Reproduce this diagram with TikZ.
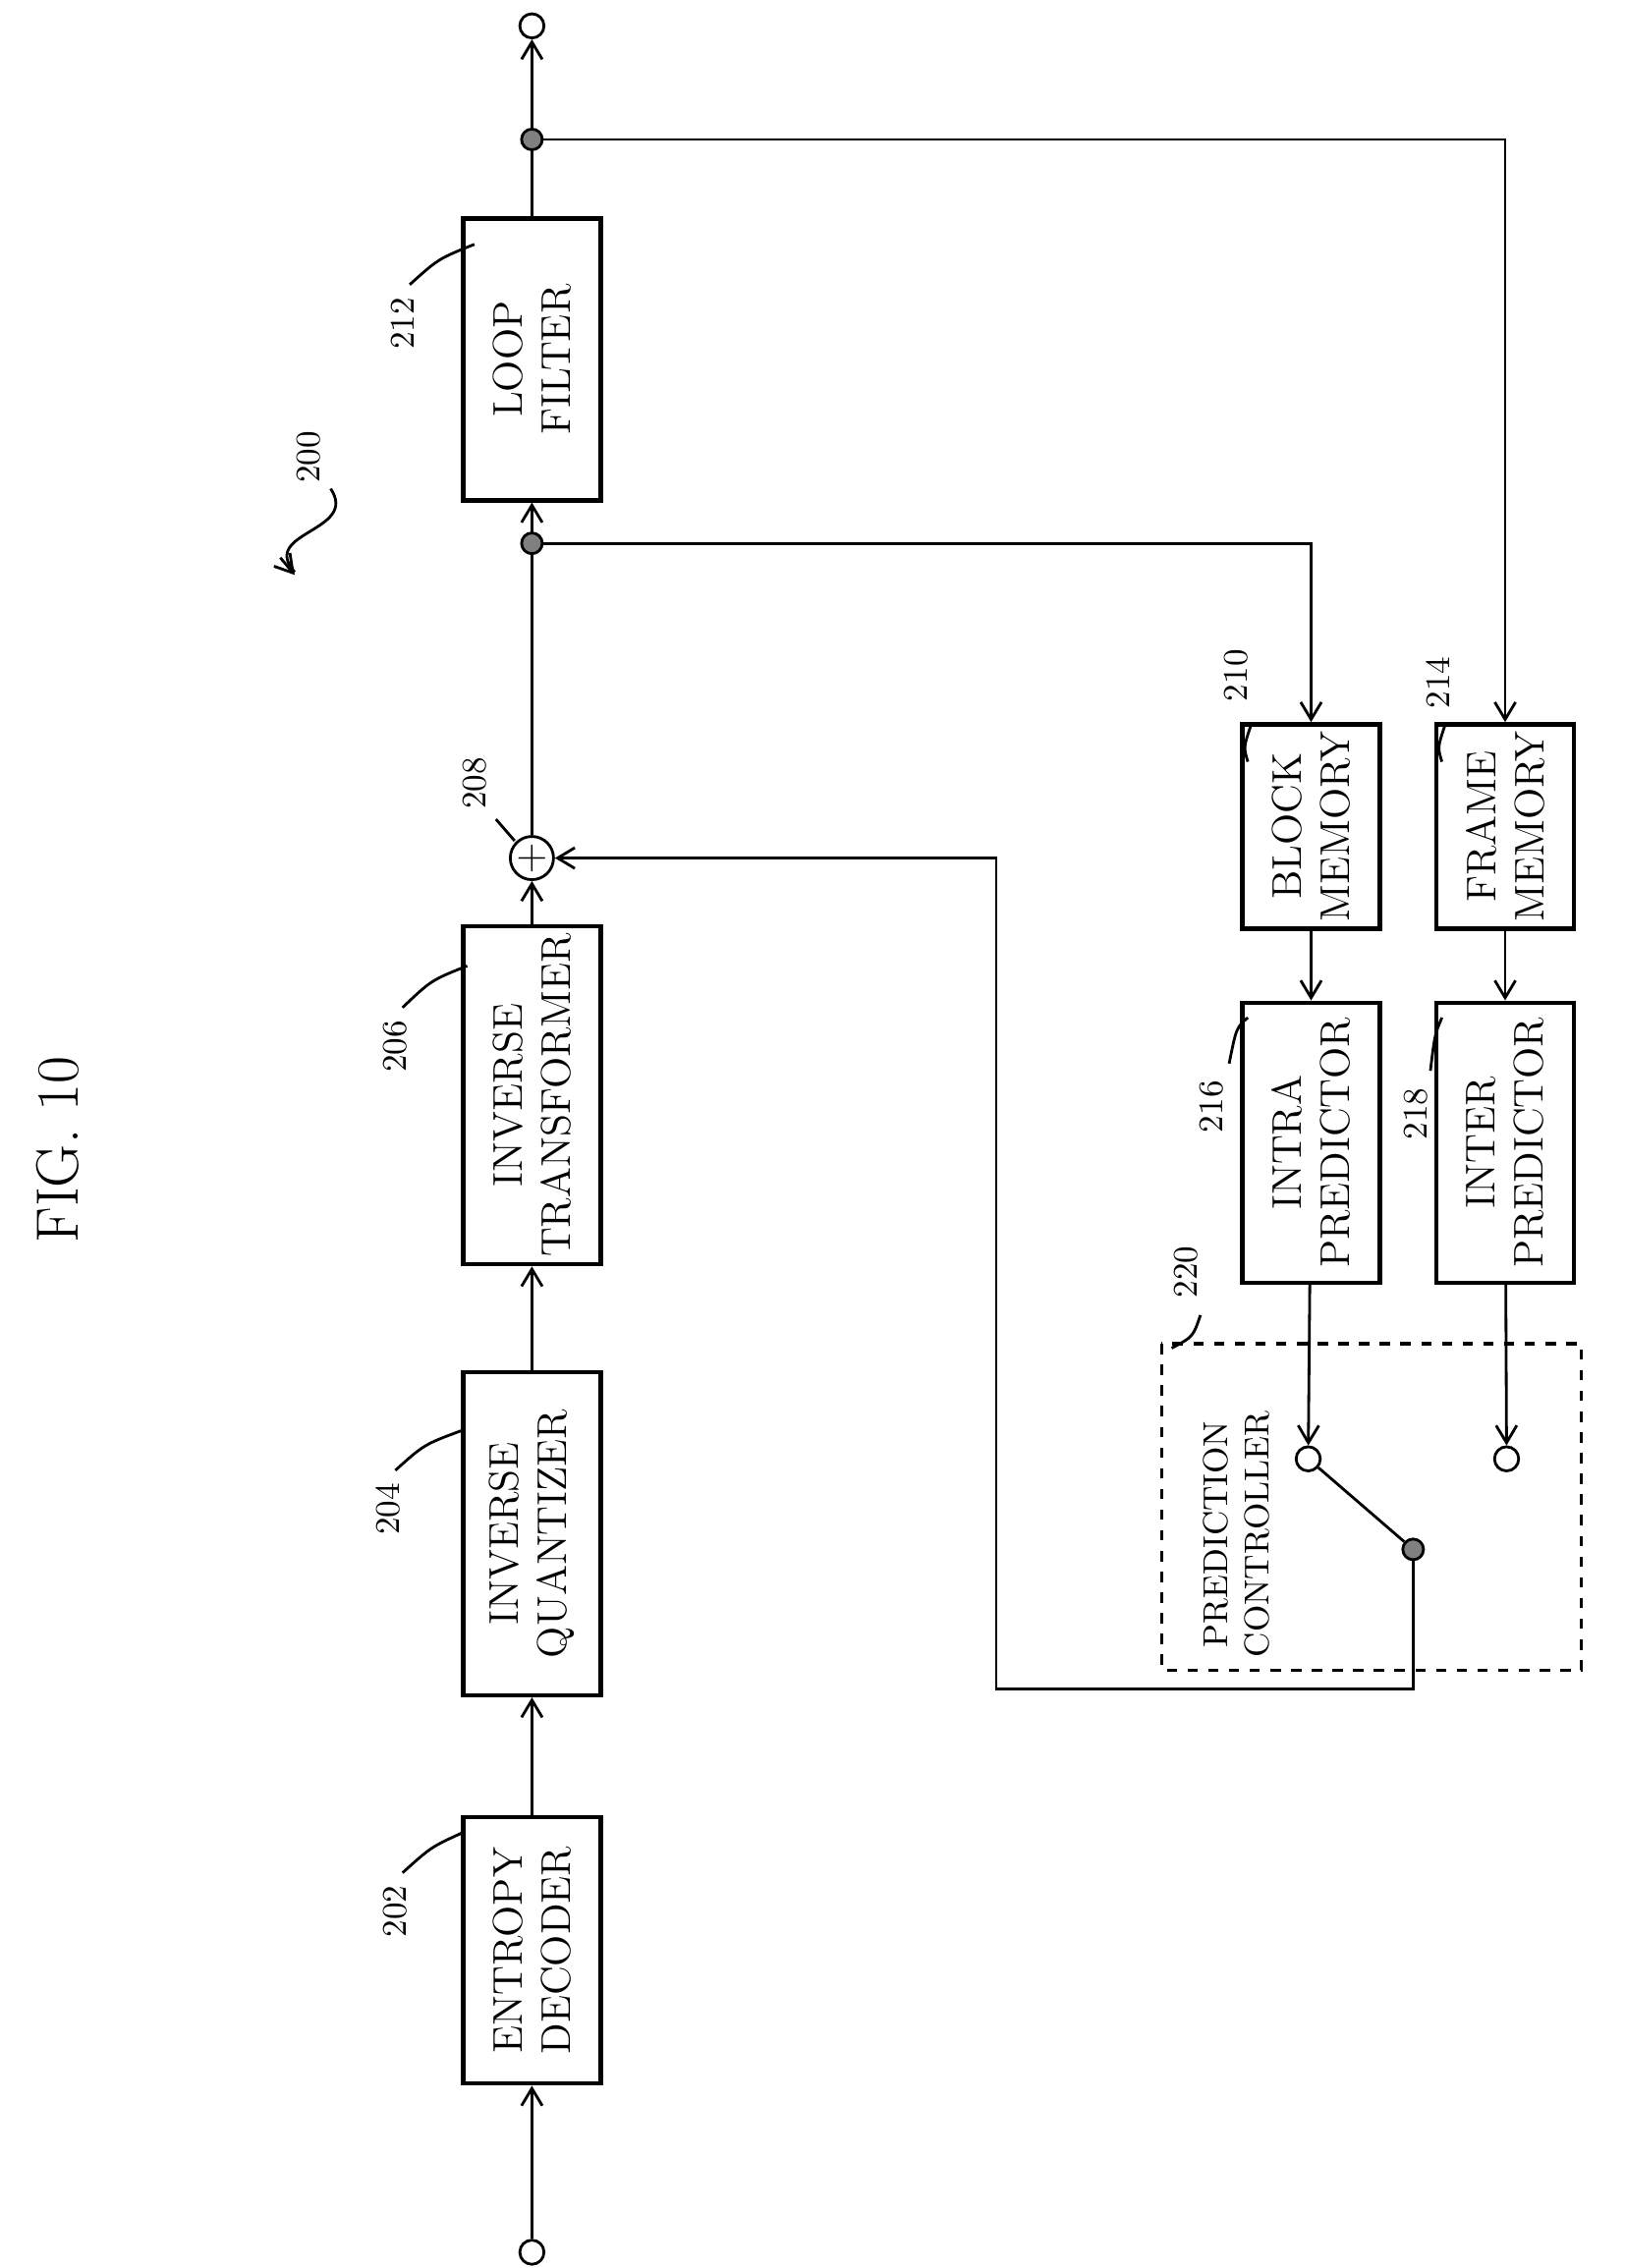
\documentclass[tikz,border=0pt]{standalone}
\usetikzlibrary{arrows.meta,calc}
\begin{document}
\begin{tikzpicture}[x=0.01463cm,y=-0.01463cm,>={Straight Barb[length=5pt,width=6pt]},
    thick,font=\large,
    blk/.style={draw,line width=1.3pt,rotate=90,align=center,minimum height=1.40cm,inner sep=2pt},
    lbl/.style={rotate=90,font=\normalsize},
    term/.style={circle,draw,inner sep=0pt,minimum size=7pt,fill=white},
    dot/.style={circle,draw,fill=gray,inner sep=0pt,minimum size=6pt}]
	\useasboundingbox (0,0) rectangle (1130,1578);
	\node[lbl,font=\LARGE] (fig) at (40,800) {FIG. 10};
	\node[lbl] (200) at (215,318) {200};
	\draw (230,340) .. controls (250,370) and (180,370) .. (205,398);
	\draw[->] (195,388) -- (205,400);

	\node[term] (in) at (370,1567) {};
	\node[blk,minimum width=2.71cm] (ent) at (370,1357) {ENTROPY\\DECODER};
	\node[blk,minimum width=3.29cm] (iq) at (370,1067) {INVERSE\\QUANTIZER};
	\node[blk,minimum width=3.44cm] (it) at (370,762) {INVERSE\\TRANSFORMER};
	\node[circle,draw,inner sep=0pt,minimum size=0.44cm] (add) at (370,597) {$+$};
	\coordinate (j1) at (370,378);
	\node[blk,minimum width=2.87cm] (lf) at (370,250) {LOOP\\FILTER};
	\coordinate (j2) at (370,97);
	\node[term] (out) at (370,18) {};

	\node[blk,minimum width=1.61cm] (bm) at (912,575) {BLOCK\\MEMORY};
	\node[blk,minimum width=1.61cm] (fm) at (1047,575) {FRAME\\MEMORY};
	\node[blk,minimum width=2.85cm] (ip) at (912,795) {INTRA\\PREDICTOR};
	\node[blk,minimum width=2.85cm] (ep) at (1047,795) {INTER\\PREDICTOR};

	\draw[dashed,line width=1pt] (808,935) rectangle (1100,1162);
	\node[lbl,align=center,anchor=north west] (pc) at (828,1162) {PREDICTION\\CONTROLLER};
	\node[term] (s1) at (910,1015) {};
	\node[term] (s2) at (1048,1015) {};
	\node[dot] (sw) at (983,1078) {};

	% labels
	\node[lbl] (l202) at (275,1330) {202};
	\draw (l202.east) ++(5,0) .. controls (300,1285) .. (322,1275);
	\node[lbl] (l204) at (270,1050) {204};
	\draw (l204.east) ++(5,0) .. controls (295,1005) .. (322,995);
	\node[lbl] (l206) at (275,728) {206};
	\draw (l206.east) ++(5,0) .. controls (300,682) .. (325,672);
	\node[lbl] (l208) at (330,545) {208};
	\draw (345,570) -- (358,585);
	\node[lbl] (l212) at (280,225) {212};
	\draw (l212.east) ++(5,0) .. controls (305,180) .. (330,170);
	\node[lbl] (l210) at (860,470) {210};
	\draw (870,505) .. controls (865,520) .. (868,530);
	\node[lbl] (l214) at (1000,475) {214};
	\draw (1005,505) .. controls (1000,520) .. (1003,530);
	\node[lbl] (l216) at (843,770) {216};
	\draw (855,740) .. controls (860,715) .. (868,708);
	\node[lbl] (l218) at (985,775) {218};
	\draw (995,745) .. controls (998,720) .. (1003,708);
	\node[lbl] (l220) at (825,885) {220};
	\draw (835,915) .. controls (830,930) .. (815,938);

	% connectors
	\draw[->] (in) -- (ent);
	\draw[->] (ent) -- (iq);
	\draw[->] (iq) -- (it);
	\draw[->] (it) -- (add);
	\draw (add) -- (j1);
	\draw[->] (j1) -- (lf);
	\draw (lf) -- (j2);
	\draw[->] (j2) -- (out);
	\draw[->] (j1) -| (bm.east);
	\draw[->] (j2) -| (fm.east);
	\draw[->] (bm) -- (ip);
	\draw[->] (fm) -- (ep);
	\draw[->] (ip) -- (s1);
	\draw[->] (ep) -- (s2);
	\draw (s1) -- (sw);
	\draw[->] (sw) -- (983,1175) -| (693,597) -- (add);
	\node[dot] at (j1) {};
	\node[dot] at (j2) {};
\end{tikzpicture}
\end{document}
